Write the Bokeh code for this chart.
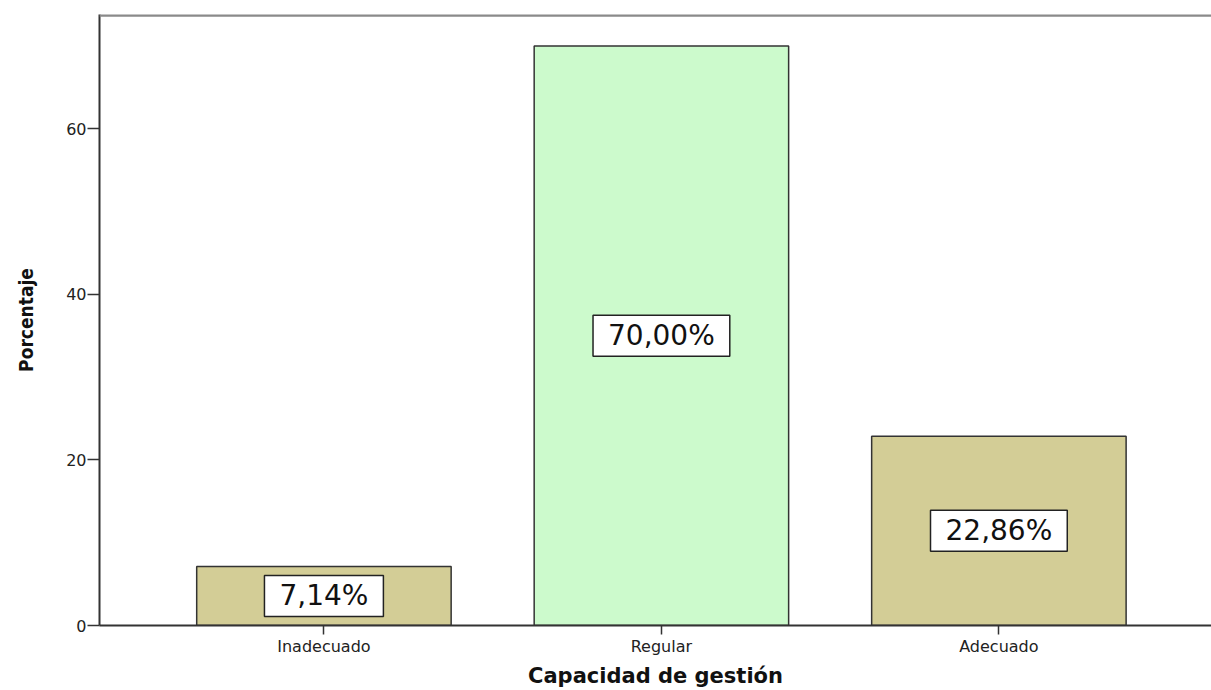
from bokeh.plotting import figure
from bokeh.models import ColumnDataSource, Span, Range1d, FixedTicker
from bokeh.core.properties import value
from bokeh.embed import file_html
from bokeh.resources import INLINE

categories = ["Inadecuado", "Regular", "Adecuado"]
percentages = [7.14, 70.00, 22.86]
label_texts = ["7,14%", "70,00%", "22,86%"]
colors = ["#D3CD96", "#CCFACC", "#D3CD96"]
y_ticks = [0, 20, 40, 60]

xs = [1, 2, 3]
src = ColumnDataSource(dict(
    x=xs, top=percentages, color=colors, txt=label_texts,
    mid=[v / 2 for v in percentages],
))

p = figure(width=1211, height=690, output_backend="svg", toolbar_location=None,
           x_range=Range1d(0.335, 3.63), y_range=Range1d(0, 73.8),
           min_border_left=99, min_border_right=0, min_border_top=14, min_border_bottom=64)

p.vbar(x="x", top="top", width=0.754, bottom=0, source=src, fill_color="color",
       line_color="#333333", line_width=1.5)

p.text(x="x", y="mid", text="txt", source=src, text_align="center",
       text_baseline="middle", text_font_size="28px", text_font=value("DejaVu Sans"),
       text_color="#111111", background_fill_color="white",
       border_line_color="#222222", border_line_width=1.5, padding=(15, 4))

p.add_layout(Span(location=73.7, dimension="width", line_color="#8a8a8a", line_width=3))

p.grid.visible = False
p.outline_line_color = None
p.background_fill_color = "white"

p.xaxis.ticker = FixedTicker(ticks=xs)
p.xaxis.major_label_overrides = {i: c for i, c in zip(xs, categories)}
p.yaxis.ticker = FixedTicker(ticks=y_ticks)

for ax in (p.xaxis[0], p.yaxis[0]):
    ax.axis_line_color = "#333333"
    ax.axis_line_width = 2
    ax.major_tick_line_color = "#333333"
    ax.major_tick_line_width = 1.5
    ax.major_tick_in = 0
    ax.minor_tick_line_color = None
    ax.major_label_text_font = "DejaVu Sans"
    ax.major_label_text_font_size = "16px"
    ax.major_label_text_color = "#222222"

p.xaxis.major_tick_out = 9
p.yaxis.major_tick_out = 12
p.xaxis.major_label_standoff = 2
p.yaxis.major_label_standoff = 1

p.xaxis.axis_label = "Capacidad de gestión"
p.xaxis.axis_label_text_font = "DejaVu Sans"
p.xaxis.axis_label_text_font_style = "bold"
p.xaxis.axis_label_text_font_size = "21px"
p.xaxis.axis_label_text_color = "#111111"
p.xaxis.axis_label_standoff = 5

p.yaxis.axis_label = "Porcentaje"
p.yaxis.axis_label_text_font = "Liberation Sans Narrow, DejaVu Sans Condensed"
p.yaxis.axis_label_text_font_style = "bold"
p.yaxis.axis_label_text_font_size = "19px"
p.yaxis.axis_label_text_color = "#111111"
p.yaxis.axis_label_standoff = 26

open("out.html", "w").write(file_html(p, INLINE))
